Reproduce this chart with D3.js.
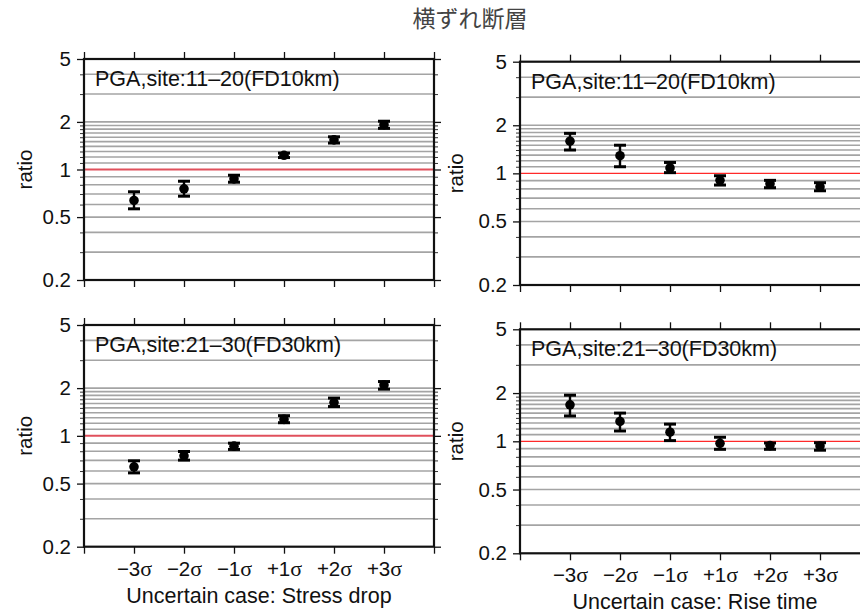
<!DOCTYPE html>
<html>
<head>
<meta charset="utf-8">
<script src="https://cdn.jsdelivr.net/npm/d3@7"></script>
<style>
  html, body { margin: 0; padding: 0; background: #fff; }
  svg { display: block; }
  text { font-family: "Liberation Sans", Arial, sans-serif; fill: #111; }
</style>
</head>
<body>
<svg id="chart" width="860" height="614"></svg>
<script>
// Uncertainty cases along the x axis
const categories = ["−3σ", "−2σ", "−1σ", "+1σ", "+2σ", "+3σ"];

// Stress drop, sites 11–20 (FD 10 km)
const stressNearMean  = [0.637, 0.755, 0.873, 1.23, 1.54, 1.92];
const stressNearLower = [0.564, 0.678, 0.831, 1.19, 1.47, 1.82];
const stressNearUpper = [0.723, 0.843, 0.920, 1.27, 1.61, 2.02];

// Rise time, sites 11–20 (FD 10 km)
const riseNearMean  = [1.59, 1.29, 1.08, 0.904, 0.861, 0.824];
const riseNearLower = [1.40, 1.10, 1.01, 0.845, 0.813, 0.778];
const riseNearUpper = [1.78, 1.50, 1.17, 0.966, 0.904, 0.874];

// Stress drop, sites 21–30 (FD 30 km)
const stressFarMean  = [0.638, 0.748, 0.861, 1.27, 1.62, 2.09];
const stressFarLower = [0.584, 0.703, 0.821, 1.21, 1.53, 1.97];
const stressFarUpper = [0.696, 0.797, 0.899, 1.34, 1.73, 2.20];

// Rise time, sites 21–30 (FD 30 km)
const riseFarMean  = [1.69, 1.33, 1.14, 0.972, 0.940, 0.935];
const riseFarLower = [1.44, 1.16, 1.01, 0.891, 0.891, 0.880];
const riseFarUpper = [1.94, 1.50, 1.28, 1.06, 0.976, 0.980];

// Axis ticks
const yMajorTicks = [0.2, 0.5, 1, 2, 5];
const yMajorLabels = ["0.2", "0.5", "1", "2", "5"];
const yGridValues = [0.3, 0.4, 0.5, 0.6, 0.7, 0.8, 0.9,
                     1.1, 1.2, 1.3, 1.4, 1.5, 1.6, 1.7, 1.8, 1.9, 2, 3, 4];
const referenceRatio = 1;

const title = "横ずれ断層";
const panelLabels = ["PGA,site:11–20(FD10km)", "PGA,site:21–30(FD30km)"];
const xTitles = ["Uncertain case: Stress drop", "Uncertain case: Rise time"];

function zip(mean, lower, upper) {
  return categories.map((c, i) => ({ cat: c, mean: mean[i], lower: lower[i], upper: upper[i] }));
}

const panels = [
  { left: 84,  top: 59,    bottom: 280,   label: panelLabels[0], data: zip(stressNearMean, stressNearLower, stressNearUpper), xTitle: null, redW: 2, redC: "#e0505c", yTitleOff: 52 },
  { left: 520, top: 61.7,  bottom: 285,   label: panelLabels[0], data: zip(riseNearMean, riseNearLower, riseNearUpper), xTitle: null, redW: 1.2, redC: "#ff2a2a", yTitleOff: 57 },
  { left: 84,  top: 325,   bottom: 546.7, label: panelLabels[1], data: zip(stressFarMean, stressFarLower, stressFarUpper), xTitle: xTitles[0], redW: 2, redC: "#e0505c", yTitleOff: 52 },
  { left: 520, top: 329.3, bottom: 553.3, label: panelLabels[1], data: zip(riseFarMean, riseFarLower, riseFarUpper), xTitle: xTitles[1], redW: 1.2, redC: "#ff2a2a", yTitleOff: 57 }
];

const svg = d3.select("#chart");

svg.append("text")
  .attr("x", 470).attr("y", 27)
  .attr("text-anchor", "middle")
  .style("font-family", "'Noto Sans CJK JP', sans-serif")
  .style("font-size", "23px")
  .style("fill", "#444")
  .text(title);

const step = 50;

panels.forEach(p => {
  const g = svg.append("g");
  const right = p.left + step * 7;

  const x = d3.scalePoint().domain(categories)
    .range([p.left + step, p.left + step * 6]);
  const y = d3.scaleLog().domain([0.2, 5]).range([p.bottom, p.top]);

  // grid lines
  g.selectAll("line.grid").data(yGridValues).join("line")
    .attr("class", "grid")
    .attr("x1", p.left).attr("x2", right)
    .attr("y1", d => y(d)).attr("y2", d => y(d))
    .attr("stroke", "#a4a4a4").attr("stroke-width", 1.6);

  // reference line at ratio 1
  g.append("line")
    .attr("x1", p.left).attr("x2", right)
    .attr("y1", y(referenceRatio)).attr("y2", y(referenceRatio))
    .attr("stroke", p.redC).attr("stroke-width", p.redW);

  const minorTicks = yGridValues.filter(v => !yMajorTicks.includes(v));

  // y axes, left and right, with outward ticks
  const yLeft = d3.axisLeft(y).tickValues(yMajorTicks)
    .tickFormat((d, i) => yMajorLabels[i]).tickSize(7).tickPadding(6);
  const yl = g.append("g").attr("transform", `translate(${p.left},0)`).call(yLeft);
  yl.selectAll(".tick text").style("font-size", "20.5px").style("fill", "#111");

  const yr = g.append("g").attr("transform", `translate(${right},0)`)
    .call(d3.axisRight(y).tickValues(yMajorTicks).tickFormat("").tickSize(7));

  // x axes, top and bottom: category ticks plus the frame edges
  const xEdge = d3.scaleLinear().domain([0, 7]).range([p.left, right]);
  g.append("g").attr("transform", `translate(0,${p.bottom})`)
    .call(d3.axisBottom(xEdge).tickValues([0, 7]).tickFormat("").tickSize(7));
  g.append("g").attr("transform", `translate(0,${p.top})`)
    .call(d3.axisTop(xEdge).tickValues([0, 7]).tickFormat("").tickSize(7));
  g.append("g").attr("transform", `translate(0,${p.top})`)
    .call(d3.axisTop(x).tickFormat("").tickSize(7));
  const xBottom = g.append("g").attr("transform", `translate(0,${p.bottom})`)
    .call(d3.axisBottom(x).tickSize(7).tickFormat(""));

  g.selectAll(".domain").remove();
  g.selectAll(".tick line").attr("stroke", "#111").attr("stroke-width", 1.3);

  // minor ticks on both y axes
  const ylm = g.append("g").attr("transform", `translate(${p.left},0)`)
    .call(d3.axisLeft(y).tickValues(minorTicks).tickFormat("").tickSize(4));
  const yrm = g.append("g").attr("transform", `translate(${right},0)`)
    .call(d3.axisRight(y).tickValues(minorTicks).tickFormat("").tickSize(4));
  [ylm, yrm].forEach(a => {
    a.select(".domain").remove();
    a.selectAll(".tick line").attr("stroke", "#333").attr("stroke-width", 1);
  });

  if (p.xTitle) {
    const labels = xBottom.selectAll(".tick").append("text")
      .attr("y", 29).attr("text-anchor", "middle")
      .style("font-size", "20.5px").style("fill", "#111");
    labels.append("tspan").text(d => d.slice(0, -1));
    labels.append("tspan").style("font-family", "'Liberation Serif', serif")
      .style("font-size", "22px").text(d => d.slice(-1));

    g.append("text")
      .attr("x", (p.left + right) / 2).attr("y", p.bottom + 56)
      .attr("text-anchor", "middle")
      .style("font-size", "21.5px")
      .text(p.xTitle);
  }

  // frame
  g.append("rect")
    .attr("x", p.left).attr("y", p.top)
    .attr("width", right - p.left).attr("height", p.bottom - p.top)
    .attr("fill", "none").attr("stroke", "#111").attr("stroke-width", 2.2);

  // panel label
  g.append("text")
    .attr("x", p.left + 11).attr("y", p.top + 27)
    .style("font-size", "21.5px")
    .text(p.label);

  // y axis title
  g.append("text")
    .attr("transform", `translate(${p.left - p.yTitleOff},${(p.top + p.bottom) / 2}) rotate(-90)`)
    .attr("text-anchor", "middle")
    .style("font-size", "20.5px")
    .text("ratio");

  // error bars
  const eb = g.selectAll("g.eb").data(p.data).join("g").attr("class", "eb");
  eb.append("line")
    .attr("x1", d => x(d.cat)).attr("x2", d => x(d.cat))
    .attr("y1", d => y(d.lower)).attr("y2", d => y(d.upper))
    .attr("stroke", "#000").attr("stroke-width", 2.4);
  eb.append("line")
    .attr("x1", d => x(d.cat) - 6).attr("x2", d => x(d.cat) + 6)
    .attr("y1", d => y(d.upper)).attr("y2", d => y(d.upper))
    .attr("stroke", "#000").attr("stroke-width", 3);
  eb.append("line")
    .attr("x1", d => x(d.cat) - 6).attr("x2", d => x(d.cat) + 6)
    .attr("y1", d => y(d.lower)).attr("y2", d => y(d.lower))
    .attr("stroke", "#000").attr("stroke-width", 3);
  eb.append("circle")
    .attr("cx", d => x(d.cat)).attr("cy", d => y(d.mean))
    .attr("r", 4.8).attr("fill", "#000");
});
</script>
</body>
</html>
